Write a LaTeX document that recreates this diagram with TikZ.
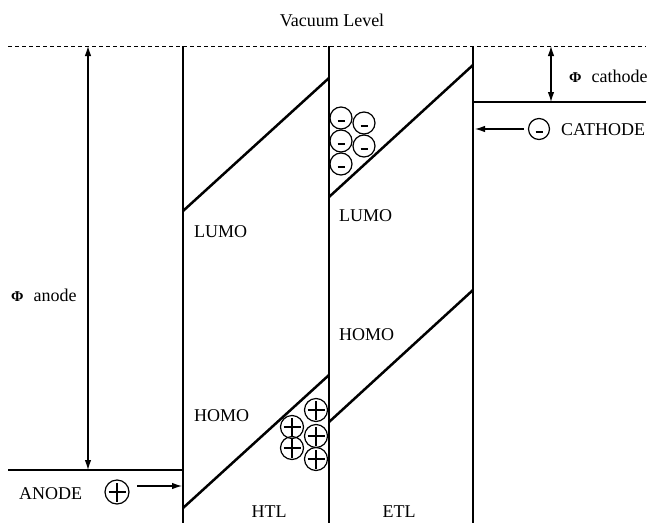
\documentclass[tikz,border=0pt]{standalone}
\usepackage{fontspec}
\setmainfont{Liberation Serif}
\usetikzlibrary{arrows.meta}

\begin{document}
\begin{tikzpicture}[x=1pt,y=-1pt,
    wall/.style={line width=2.5pt},
    level/.style={line width=2.9pt},
    gap/.style={{Latex[length=10pt,width=6.5pt]}-{Latex[length=10pt,width=6.5pt]},line width=1.1pt},
    inject/.style={-{Latex[length=10pt,width=6.5pt]},line width=1.1pt},
    lbl/.style={font=\fontsize{18}{21}\selectfont,inner sep=0pt},
    electron/.style={circle,draw,line width=1.2pt,minimum size=22pt,inner sep=0pt,
      path picture={\draw[line width=2.4pt] ([xshift=-3.5pt,yshift=-3pt]path picture bounding box.center) -- ++(7pt,0);}},
    hole/.style={circle,draw,line width=1.2pt,minimum size=23pt,inner sep=0pt,
      path picture={\draw[line width=1.3pt]
        ([xshift=-8.5pt]path picture bounding box.center) -- ([xshift=8.5pt]path picture bounding box.center)
        ([yshift=-9.5pt]path picture bounding box.center) -- ([yshift=9.5pt]path picture bounding box.center);}}]
  \useasboundingbox (0,0) rectangle (652,522);
  % vacuum level
  \coordinate (vacL) at (8,46); \coordinate (vacR) at (646,46);
  \draw[line width=0.9pt,dash pattern=on 4pt off 3pt] (vacL) -- (vacR);
  \node[lbl] (vac) at (332,20) {Vacuum Level};
  % layer walls
  \foreach \name/\x in {wa/183,wb/329,wc/473}{
    \coordinate (\name t) at (\x,46); \coordinate (\name b) at (\x,523);
    \draw[wall] (\name t) -- (\name b);}
  % bands
  \coordinate (hlumoL) at (183,211); \coordinate (hlumoR) at (329,78);
  \coordinate (hhomoL) at (183,508); \coordinate (hhomoR) at (329,375);
  \coordinate (elumoL) at (329,197); \coordinate (elumoR) at (473,65);
  \coordinate (ehomoL) at (329,422); \coordinate (ehomoR) at (473,290);
  \draw[wall] (hlumoL) -- (hlumoR) (hhomoL) -- (hhomoR)
              (elumoL) -- (elumoR) (ehomoL) -- (ehomoR);
  \node[lbl,anchor=west] (hlumo) at (194,232) {LUMO};
  \node[lbl,anchor=west] (hhomo) at (194,416) {HOMO};
  \node[lbl,anchor=west] (elumo) at (339,216) {LUMO};
  \node[lbl,anchor=west] (ehomo) at (339,335) {HOMO};
  \node[lbl] (htl) at (269,512) {HTL};
  \node[lbl] (etl) at (399,512) {ETL};
  % anode side
  \coordinate (anL) at (8,470); \coordinate (anR) at (183,470);
  \draw[level] (anL) -- (anR);
  \coordinate (phiaT) at (88,46); \coordinate (phiaB) at (88,470);
  \draw[gap] (phiaT) -- (phiaB);
  \node[lbl,anchor=west] (phia) at (11,295) {{\fontsize{15}{18}\selectfont\textbf{Φ}}\hspace{0.55em}anode};
  \node[lbl,anchor=west] (anode) at (19,494) {ANODE};
  \node[hole,minimum size=24pt] (hin) at (117,492) {};
  \coordinate (hinE) at (137,486); \coordinate (hinW) at (182,486);
  \draw[inject] (hinE) -- (hinW);
  % cathode side
  \coordinate (caL) at (473,102); \coordinate (caR) at (646,102);
  \draw[level] (caL) -- (caR);
  \coordinate (phicT) at (551,46); \coordinate (phicB) at (551,102);
  \draw[gap] (phicT) -- (phicB);
  \node[lbl,anchor=west] (phic) at (569,76) {{\fontsize{15}{18}\selectfont\textbf{Φ}}\hspace{0.55em}cathode};
  \node[lbl,anchor=west] (cathode) at (561,130) {CATHODE};
  \node[electron,minimum size=21pt] (ein) at (539,129) {};
  \coordinate (einW) at (524,129); \coordinate (einE) at (475,129);
  \draw[inject] (einW) -- (einE);
  % carriers at the interface
  \foreach \x/\y [count=\i] in {341/118,364/123,341/141,364/146,341/164}
    \node[electron] (e\i) at (\x,\y) {};
  \foreach \x/\y [count=\i] in {316/410,292/427,316/436,292/448,316/459}
    \node[hole] (h\i) at (\x,\y) {};
\end{tikzpicture}
\end{document}
